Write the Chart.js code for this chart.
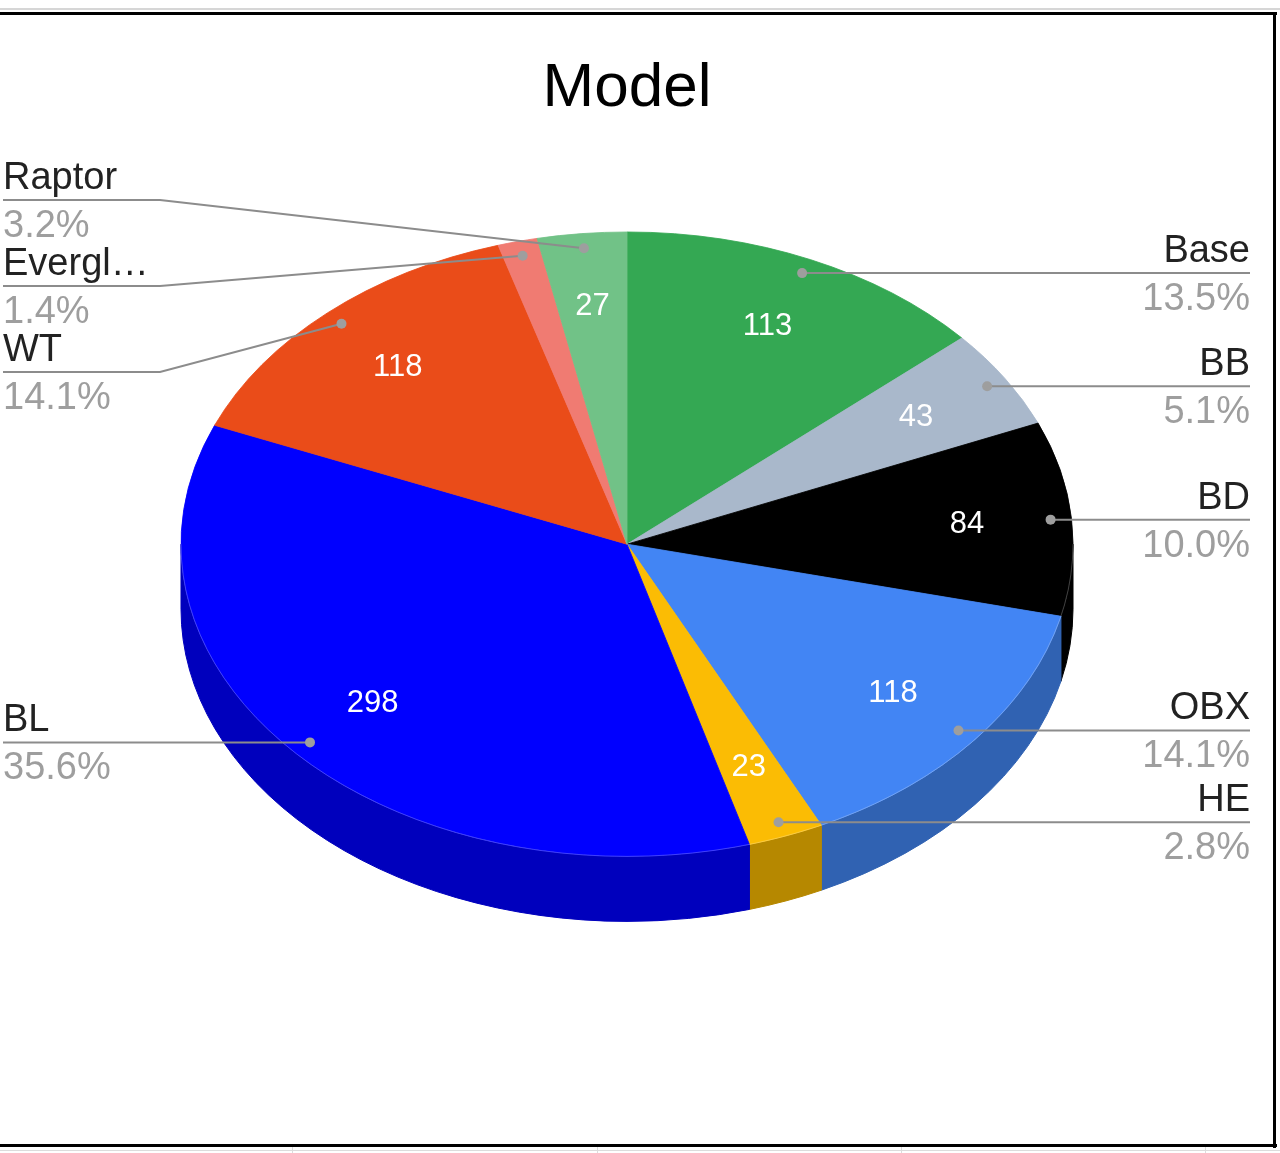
<!DOCTYPE html>
<html>
<head>
<meta charset="utf-8">
<script src="https://cdn.jsdelivr.net/npm/chart.js@4.4.0/dist/chart.umd.min.js"></script>
<style>
html,body{margin:0;padding:0;background:#fff;}
#wrap{position:relative;width:1280px;height:1153px;}
canvas{display:block;}
</style>
</head>
<body>
<div id="wrap"><canvas id="c" width="1280" height="1153"></canvas></div>
<script>
// ---- data ----
const chartTitle = 'Model';
const categories = ['Base', 'BB', 'BD', 'OBX', 'HE', 'BL', 'WT', 'Evergl…', 'Raptor'];
const values = [113, 43, 84, 118, 23, 298, 118, 12, 27];
const colors = ['#34a853', '#a9b8cb', '#000000', '#4285f4', '#fbbc04', '#0000ff', '#ea4c19', '#f07b72', '#71c287'];
const sideColors = ['#267d3e', '#7d8a99', '#000000', '#3062b2', '#b68800', '#0000bd', '#b03a12', '#b55c55', '#559469'];

// ---- style / geometry constants ----
const FONT = '"Liberation Sans", Arial, Helvetica, sans-serif';
const TILT = 0.7;
const DEPTH = 65;
const VALUE_POS = 0.765;
const DOT_POS = 0.953;
const MIN_VALUE_SHARE = 0.02;
const LABEL_GAP = 86;
const LABEL_MIN_Y = 200;
const LEFT_X = 3, RIGHT_X = 1250, BEND = 157;

function arcGeom(chart) {
  const meta = chart.getDatasetMeta(0);
  return meta.data.map(a => a.getProps(['x', 'y', 'startAngle', 'endAngle', 'outerRadius'], true));
}

let saved = false;
const pie3d = {
  id: 'pie3d',
  beforeDatasetsDraw(chart) {
    const ctx = chart.ctx;
    const arcs = arcGeom(chart);
    if (!arcs.length) return;
    const cx = arcs[0].x, cy = arcs[0].y, R = arcs[0].outerRadius;
    // side walls (front half)
    arcs.forEach((a, i) => {
      const s = Math.max(a.startAngle, 0), e = Math.min(a.endAngle, Math.PI);
      if (e <= s) return;
      ctx.beginPath();
      ctx.ellipse(cx, cy, R, R * TILT, 0, s, e);
      ctx.lineTo(cx + R * Math.cos(e), cy + DEPTH + R * TILT * Math.sin(e));
      ctx.ellipse(cx, cy + DEPTH, R, R * TILT, 0, e, s, true);
      ctx.closePath();
      ctx.fillStyle = sideColors[i];
      ctx.strokeStyle = sideColors[i];
      ctx.lineWidth = 1;
      ctx.fill();
      ctx.stroke();
    });
    ctx.save();
    saved = true;
    ctx.translate(cx, cy);
    ctx.scale(1, TILT);
    ctx.translate(-cx, -cy);
  },
  afterDatasetsDraw(chart) {
    const ctx = chart.ctx;
    if (saved) { ctx.restore(); saved = false; }
    const arcs = arcGeom(chart);
    if (!arcs.length) return;
    const cx = arcs[0].x, cy = arcs[0].y, R = arcs[0].outerRadius;
    const total = values.reduce((s, v) => s + v, 0);

    // faint rim on front edge
    ctx.save();
    ctx.beginPath();
    ctx.ellipse(cx, cy, R, R * TILT, 0, 0, Math.PI);
    ctx.strokeStyle = 'rgba(255,255,255,0.25)';
    ctx.lineWidth = 1;
    ctx.stroke();
    ctx.restore();

    const items = arcs.map((a, i) => {
      const m = (a.startAngle + a.endAngle) / 2;
      const c = Math.cos(m), s = Math.sin(m);
      return {
        i, c, s,
        vx: cx + c * R * VALUE_POS, vy: cy + s * R * VALUE_POS * TILT,
        dx: cx + c * R * DOT_POS, dy: cy + s * R * DOT_POS * TILT,
        side: c >= 0 ? 'R' : 'L'
      };
    });

    // value labels (omitted on very thin slices)
    ctx.save();
    ctx.fillStyle = '#ffffff';
    ctx.font = '31px ' + FONT;
    ctx.textAlign = 'center';
    ctx.textBaseline = 'middle';
    items.forEach(it => {
      if (values[it.i] / total < MIN_VALUE_SHARE) return;
      ctx.fillText(String(values[it.i]), it.vx, it.vy);
    });
    ctx.restore();

    // label layout per side
    ['L', 'R'].forEach(side => {
      const list = items.filter(it => it.side === side).sort((a, b) => a.dy - b.dy);
      list.forEach(it => it.ly = it.dy);
      for (let k = list.length - 2; k >= 0; k--) {
        list[k].ly = Math.min(list[k].ly, list[k + 1].ly - LABEL_GAP);
      }
      for (let k = 0; k < list.length; k++) {
        let y = Math.max(list[k].ly, LABEL_MIN_Y);
        if (k > 0) y = Math.max(y, list[k - 1].ly + LABEL_GAP);
        list[k].ly = y;
      }
    });

    // leader lines
    ctx.save();
    ctx.strokeStyle = '#8c8c8c';
    ctx.lineWidth = 2;
    items.forEach(it => {
      ctx.beginPath();
      if (it.side === 'L') {
        ctx.moveTo(LEFT_X, it.ly);
        ctx.lineTo(LEFT_X + BEND, it.ly);
      } else {
        ctx.moveTo(RIGHT_X, it.ly);
        ctx.lineTo(RIGHT_X - BEND, it.ly);
      }
      ctx.lineTo(it.dx, it.dy);
      ctx.stroke();
    });
    ctx.fillStyle = '#9e9e9e';
    items.forEach(it => {
      ctx.beginPath();
      ctx.arc(it.dx, it.dy, 5, 0, Math.PI * 2);
      ctx.fill();
    });
    ctx.restore();

    // label texts
    ctx.save();
    ctx.font = '38px ' + FONT;
    ctx.textBaseline = 'alphabetic';
    items.forEach(it => {
      const x = it.side === 'L' ? LEFT_X : RIGHT_X;
      ctx.textAlign = it.side === 'L' ? 'left' : 'right';
      ctx.fillStyle = '#222222';
      ctx.fillText(categories[it.i], x, it.ly - 11);
      ctx.fillStyle = '#9e9e9e';
      ctx.fillText((values[it.i] / total * 100).toFixed(1) + '%', x, it.ly + 37);
    });
    ctx.restore();
  },
  afterDraw(chart) {
    const ctx = chart.ctx;
    ctx.save();
    // top frame
    ctx.fillStyle = '#d6d6d6';
    ctx.fillRect(0, 8, 1280, 2);
    ctx.fillStyle = '#000';
    ctx.fillRect(0, 12, 1277, 3);
    // right frame
    ctx.fillRect(1273, 12, 3, 1136);
    // bottom frame
    ctx.fillRect(0, 1144, 1277, 3);
    ctx.fillStyle = '#dcdcdc';
    ctx.fillRect(0, 1150, 1280, 1);
    [292, 597, 901, 1205].forEach(x => ctx.fillRect(x, 1147, 1, 6));
    ctx.restore();
  }
};

new Chart(document.getElementById('c'), {
  type: 'pie',
  data: {
    labels: categories,
    datasets: [{
      data: values,
      backgroundColor: colors,
      borderColor: colors,
      borderWidth: 1,
      radius: 446
    }]
  },
  options: {
    responsive: false,
    animation: false,
    devicePixelRatio: 1,
    layout: { padding: { left: 181, right: 207, top: 0, bottom: 191 } },
    plugins: {
      legend: { display: false },
      tooltip: { enabled: false },
      title: {
        display: true,
        text: chartTitle,
        color: '#000',
        font: { family: FONT, size: 62, weight: 'normal' },
        padding: { top: 52, bottom: 0 }
      }
    }
  },
  plugins: [pie3d]
});
</script>
</body>
</html>
